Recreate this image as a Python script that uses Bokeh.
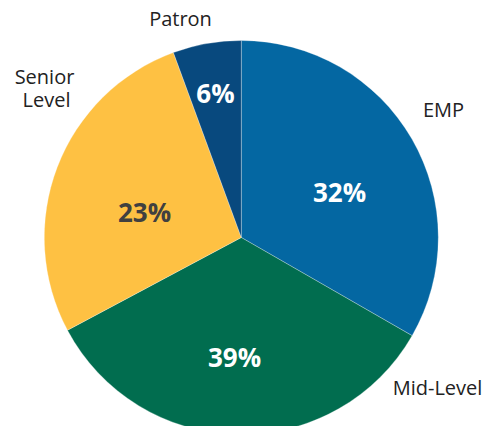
import math
from bokeh.plotting import figure
from bokeh.models import ColumnDataSource, Range1d
from bokeh.core.properties import value
from bokeh.embed import file_html
from bokeh.resources import INLINE

categories = ["EMP", "Mid-Level", "Senior Level", "Patron"]
slice_values = [33.3, 33.9, 27.2, 5.6]
pct_labels = ["32%", "39%", "23%", "6%"]
colors = ["#0467A2", "#016D4F", "#FEC143", "#08497E"]
pct_colors = ["#FFFFFF", "#FFFFFF", "#404040", "#FFFFFF"]

W, H = 493, 426
cx, cy, R = 240.8, H - 237.0, 197.0

total = sum(slice_values)
starts, ends = [], []
acc = 0.0
for v in slice_values:
    starts.append(math.pi / 2 - 2 * math.pi * acc / total)
    acc += v
    ends.append(math.pi / 2 - 2 * math.pi * acc / total)

p = figure(width=W, height=H, output_backend="svg", toolbar_location=None,
           x_range=Range1d(0, W), y_range=Range1d(0, H), min_border=0)
p.axis.visible = False
p.grid.visible = False
p.outline_line_color = None
p.background_fill_color = "white"
p.border_fill_color = "white"

src = ColumnDataSource(dict(start=starts, end=ends, color=colors, cat=categories))
p.wedge(x=cx, y=cy, radius=R, start_angle="start", end_angle="end",
        direction="clock", fill_color="color", line_color="white",
        line_alpha=0.35, line_width=0.8, source=src)

SHIFT = 10  # compensate renderer baseline offset

# percentage labels (positions = layout)
pct_x = [339, 234, 144, 215]
pct_base = [201, 366.7, 221.7, 102]
p.text(x=pct_x, y=[H - b + SHIFT for b in pct_base], text=pct_labels,
       text_color=pct_colors, text_font=value("Open Sans"),
       text_font_style="bold", text_font_size="26px",
       text_align="center", text_baseline="alphabetic")

# category labels
cat_text = ["EMP", "Mid-Level", "Senior", "Level", "Patron"]
cat_x = [443, 437, 44, 46, 180]
cat_base = [119, 397, 86, 109, 28]
p.text(x=cat_x, y=[H - b + SHIFT for b in cat_base], text=cat_text,
       text_color="#222222", text_font=value("Open Sans"),
       text_font_size="20px", text_align="center", text_baseline="alphabetic")

open("out.html", "w").write(file_html(p, INLINE))
